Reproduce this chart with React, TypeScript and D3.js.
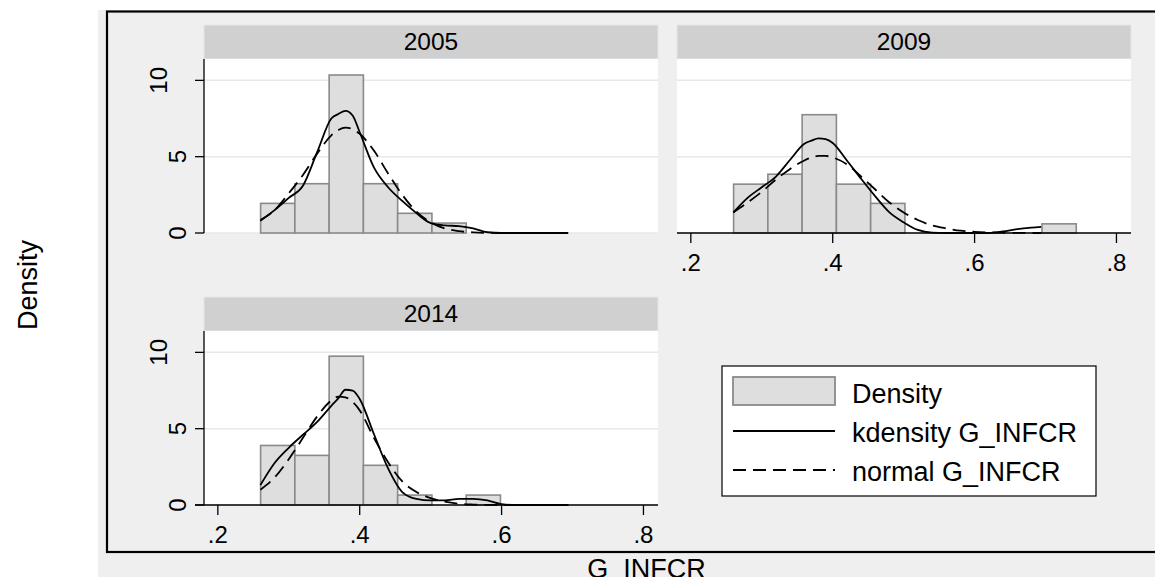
import * as d3 from 'd3';
import {useEffect, useRef} from 'react';

// histogram + kdensity + normal overlay of G_INFCR, by year
const years = ["2005", "2009", "2014"];

// bin edges shared by all three panels
const binEdges = [0.2603, 0.3086, 0.3569, 0.4052, 0.4535, 0.5018, 0.5501, 0.5984, 0.6467, 0.6950, 0.7433];

const hist2005 = [1.94, 3.23, 10.35, 3.23, 1.29, 0.65, 0, 0, 0, 0];
const hist2009 = [3.2, 3.85, 7.75, 3.2, 1.94, 0, 0, 0, 0, 0.6];
const hist2014 = [3.9, 3.25, 9.75, 2.6, 0.65, 0, 0.65, 0, 0, 0];

const gridX = [0.26, 0.28, 0.30, 0.32, 0.34, 0.36, 0.37, 0.38, 0.39, 0.40, 0.42, 0.44, 0.46, 0.48, 0.50, 0.52, 0.54, 0.56, 0.58, 0.60, 0.62, 0.64, 0.66, 0.68, 0.694];

const kd2005 = [0.8, 1.5, 2.3, 3.1, 5.3, 7.5, 7.8, 8.0, 7.7, 6.6, 4.3, 3.0, 2.1, 1.3, 0.65, 0.5, 0.45, 0.3, 0.05, 0, 0, 0, 0, 0, 0];
const nm2005 = [0.85, 1.5, 2.6, 3.8, 5.2, 6.4, 6.75, 6.9, 6.8, 6.5, 5.4, 3.9, 2.5, 1.4, 0.7, 0.3, 0.12, 0.04, 0.01, 0, 0, 0, 0, 0, 0];
const kd2009 = [1.35, 2.3, 3.0, 3.7, 4.8, 5.85, 6.05, 6.2, 6.15, 5.9, 4.75, 3.55, 2.4, 1.35, 0.7, 0.2, 0.02, 0, 0, 0, 0, 0.1, 0.25, 0.35, 0.4];
const nm2009 = [1.35, 2.0, 2.7, 3.5, 4.2, 4.75, 4.95, 5.05, 5.05, 4.95, 4.5, 3.7, 2.85, 2.0, 1.35, 0.85, 0.5, 0.3, 0.15, 0.08, 0.04, 0.02, 0.01, 0, 0];
const kd2014 = [1.3, 2.75, 3.75, 4.6, 5.45, 6.5, 7.0, 7.55, 7.5, 6.95, 4.65, 2.4, 0.85, 0.4, 0.3, 0.3, 0.4, 0.4, 0.3, 0.05, 0, 0, 0, 0, 0];
const nm2014 = [1.0, 1.8, 3.0, 4.4, 5.8, 6.85, 7.1, 7.05, 6.75, 6.2, 4.4, 2.8, 1.55, 0.85, 0.45, 0.22, 0.08, 0.03, 0.01, 0, 0, 0, 0, 0, 0];

const xTicks = [0.2, 0.4, 0.6, 0.8];
const yTicks = [0, 5, 10];
const legendLabels = ["Density", "kdensity G_INFCR", "normal G_INFCR"];

export default function App() {
    const svgRef = useRef(null);

    const width = 1155;
    const height = 583;
    const font = "Arial, 'Liberation Sans', sans-serif";

    useEffect(() => {
        document.body.style.margin = "0";

        const svg = d3.select(svgRef.current)
            .attr('width', width)
            .attr('height', height);
        svg.selectAll("*").remove();

        // backgrounds
        svg.append('rect').attr('width', width).attr('height', height).attr('fill', '#ffffff');
        svg.append('rect').attr('x', 98).attr('y', 10).attr('width', width - 98).attr('height', 567).attr('fill', '#efefef');

        const panelW = 454;
        const stripH = 34;
        const plotH = 174;

        const x = d3.scaleLinear().domain([0.1805, 0.8205]).range([0, panelW]);
        const y = d3.scaleLinear().domain([0, 11.4]).range([plotH, 0]);

        const panels = [
            {year: years[0], left: 204, top: 25, hist: hist2005, kd: kd2005, nm: nm2005, xAxis: false, yAxis: true},
            {year: years[1], left: 677, top: 25, hist: hist2009, kd: kd2009, nm: nm2009, xAxis: true, yAxis: false},
            {year: years[2], left: 204, top: 297, hist: hist2014, kd: kd2014, nm: nm2014, xAxis: true, yAxis: true},
        ];

        const line = d3.line()
            .x(d => x(d[0]))
            .y(d => y(d[1]))
            .curve(d3.curveMonotoneX);

        panels.forEach(p => {
            const g = svg.append('g').attr('transform', `translate(${p.left}, ${p.top})`);

            // strip header
            g.append('rect')
                .attr('x', 0).attr('y', 0)
                .attr('width', panelW).attr('height', stripH)
                .attr('fill', '#d0d0d0')
                .attr('stroke', '#dce8ef').attr('stroke-width', 1);
            g.append('text')
                .attr('x', panelW / 2).attr('y', 24.5)
                .attr('text-anchor', 'middle')
                .attr('font-family', font).attr('font-size', 24.5)
                .text(p.year);

            const plot = g.append('g').attr('transform', `translate(0, ${stripH})`);

            plot.append('rect')
                .attr('width', panelW).attr('height', plotH)
                .attr('fill', '#ffffff');

            // gridlines
            plot.selectAll('.grid')
                .data(yTicks)
                .enter()
                .append('line')
                .attr('x1', 0).attr('x2', panelW)
                .attr('y1', d => y(d)).attr('y2', d => y(d))
                .attr('stroke', '#e8e8e8').attr('stroke-width', 1.5);

            // bars
            plot.selectAll('.bar')
                .data(p.hist.map((v, i) => ({v, i})).filter(d => d.v > 0))
                .enter()
                .append('rect')
                .attr('x', d => x(binEdges[d.i]))
                .attr('width', d => x(binEdges[d.i + 1]) - x(binEdges[d.i]))
                .attr('y', d => y(d.v))
                .attr('height', d => y(0) - y(d.v))
                .attr('fill', '#dedede')
                .attr('stroke', '#8a8a8a').attr('stroke-width', 1.6);

            // normal (dashed) then kdensity (solid)
            plot.append('path')
                .attr('d', line(gridX.map((xv, i) => [xv, p.nm[i]])))
                .attr('fill', 'none')
                .attr('stroke', '#000').attr('stroke-width', 1.8)
                .attr('stroke-dasharray', '13 7');
            plot.append('path')
                .attr('d', line(gridX.map((xv, i) => [xv, p.kd[i]])))
                .attr('fill', 'none')
                .attr('stroke', '#000').attr('stroke-width', 1.8);

            if (p.yAxis) {
                plot.append('line')
                    .attr('x1', 0).attr('x2', 0)
                    .attr('y1', 0).attr('y2', plotH)
                    .attr('stroke', '#000').attr('stroke-width', 1.3);
                yTicks.forEach(t => {
                    plot.append('line')
                        .attr('x1', -9).attr('x2', 0)
                        .attr('y1', y(t)).attr('y2', y(t))
                        .attr('stroke', '#000').attr('stroke-width', 1.3);
                    const label = String(t);
                    const lx = -18.5 - (label.length - 1) * 18.5;
                    plot.append('text')
                        .attr('transform', `translate(${lx}, ${y(t)}) rotate(-90)`)
                        .attr('text-anchor', 'middle')
                        .attr('font-family', font).attr('font-size', 24)
                        .text(label);
                });
            }

            if (p.xAxis) {
                plot.append('line')
                    .attr('x1', p.yAxis ? -9 : 0).attr('x2', panelW)
                    .attr('y1', plotH).attr('y2', plotH)
                    .attr('stroke', '#000').attr('stroke-width', 1.3);
                xTicks.forEach(t => {
                    plot.append('line')
                        .attr('x1', x(t)).attr('x2', x(t))
                        .attr('y1', plotH).attr('y2', plotH + 10)
                        .attr('stroke', '#000').attr('stroke-width', 1.3);
                    plot.append('text')
                        .attr('x', x(t)).attr('y', plotH + 38)
                        .attr('text-anchor', 'middle')
                        .attr('font-family', font).attr('font-size', 24)
                        .text(d3.format(".1f")(t).replace(/^0/, ''));
                });
            }
        });

        // legend
        const lg = svg.append('g').attr('transform', 'translate(722, 366)');
        lg.append('rect')
            .attr('width', 374).attr('height', 130)
            .attr('fill', '#ffffff')
            .attr('stroke', '#000').attr('stroke-width', 1.2);
        lg.append('rect')
            .attr('x', 11).attr('y', 11)
            .attr('width', 102).attr('height', 28)
            .attr('fill', '#dedede')
            .attr('stroke', '#8a8a8a').attr('stroke-width', 1.8);
        lg.append('line')
            .attr('x1', 11).attr('x2', 113).attr('y1', 65).attr('y2', 65)
            .attr('stroke', '#000').attr('stroke-width', 2);
        lg.append('line')
            .attr('x1', 11).attr('x2', 113).attr('y1', 104).attr('y2', 104)
            .attr('stroke', '#000').attr('stroke-width', 2)
            .attr('stroke-dasharray', '13 7');
        lg.selectAll('.lt')
            .data(legendLabels)
            .enter()
            .append('text')
            .attr('x', 130)
            .attr('y', (d, i) => 36.5 + i * 39)
            .attr('font-family', font).attr('font-size', 27)
            .text(d => d);

        // outer frame
        svg.append('rect')
            .attr('x', 107).attr('y', 11.5)
            .attr('width', width + 20).attr('height', 540.5)
            .attr('fill', 'none')
            .attr('stroke', '#000').attr('stroke-width', 2.2);

        // axis titles
        svg.append('text')
            .attr('transform', 'translate(37, 285) rotate(-90)')
            .attr('text-anchor', 'middle')
            .attr('font-family', font).attr('font-size', 27)
            .text('Density');
        svg.append('text')
            .attr('x', 646.5).attr('y', 578)
            .attr('text-anchor', 'middle')
            .attr('font-family', font).attr('font-size', 27)
            .text('G_INFCR');
        svg.append('rect')
            .attr('x', 0).attr('y', 577)
            .attr('width', width).attr('height', 6)
            .attr('fill', '#ffffff');

        return () => {
        };
    }, []);

    return (
        <svg ref={svgRef} style={{display: 'block'}}></svg>
    );
}
